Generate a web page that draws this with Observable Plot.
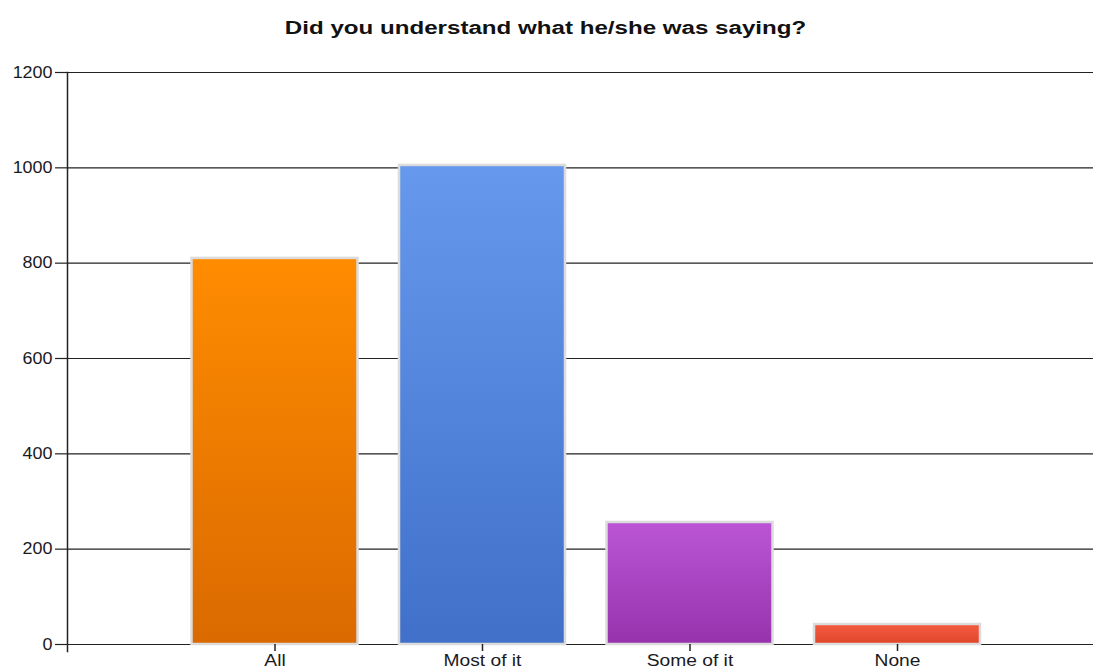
<!DOCTYPE html>
<html>
<head>
<meta charset="utf-8">
<script src="https://cdn.jsdelivr.net/npm/d3@7"></script>
<script src="https://cdn.jsdelivr.net/npm/@observablehq/plot@0.6"></script>
<style>
  html, body { margin: 0; padding: 0; background: #fff; }
  #titlewrap { height: 50px; width: 1093px; text-align: center; }
  #title { display: inline-block; line-height: 56px; font-family: "Liberation Sans", Arial, sans-serif; font-weight: bold; font-size: 18px; color: #111; transform: scaleX(1.34); transform-origin: center; margin-left: -2px; }
</style>
</head>
<body>
<div id="titlewrap"><span id="title">Did you understand what he/she was saying?</span></div>
<div id="chart"></div>
<script>
const categories = ["All", "Most of it", "Some of it", "None"];
const counts = [810, 1005, 256, 42];
const yTicks = [0, 200, 400, 600, 800, 1000, 1200];
const gradTop = ["#ff8c00", "#6699ee", "#bb55d5", "#f45c40"];
const gradBottom = ["#da6a00", "#4070c8", "#9633ac", "#e0452a"];

const data = categories.map((c, i) => ({category: c, count: counts[i]}));
const gradIds = categories.map((c, i) => `grad${i}`);

const defs = () => {
  const d = d3.create("svg:defs");
  gradIds.forEach((id, i) => {
    const g = d.append("linearGradient").attr("id", id).attr("x1", 0).attr("y1", 0).attr("x2", 0).attr("y2", 1);
    g.append("stop").attr("offset", "0%").attr("stop-color", gradTop[i]);
    g.append("stop").attr("offset", "100%").attr("stop-color", gradBottom[i]);
  });
  return d.node();
};

const chart = Plot.plot({
  width: 1093,
  height: 619,
  marginTop: 22,
  marginBottom: 25,
  marginLeft: 67,
  marginRight: 0,
  style: {fontFamily: "'Liberation Sans', Arial, sans-serif", fontSize: "16px", color: "#1a1a22", background: "#fff"},
  x: {type: "band", domain: categories, range: [170.75, 1000.75], paddingInner: 0.2, paddingOuter: 0.1, round: false, label: null},
  y: {domain: [0, 1200], label: null},
  color: {type: "ordinal", domain: categories, range: gradIds.map(id => `url(#${id})`)},
  marks: [
    defs,
    Plot.ruleY(yTicks, {stroke: "#222", strokeWidth: 1.2}),
    Plot.barY(data, {x: "category", y: "count", fill: "category", stroke: "#dcdcdc", strokeWidth: 2.5}),
    Plot.axisY({ticks: yTicks, tickFormat: "d", tickSize: 12, tickPadding: 3, stroke: "#222", strokeWidth: 1.2, fill: "#1a1a22", ariaLabel: "y-axis"}),
    Plot.axisX({tickSize: 7, tickPadding: 3, stroke: "#222", strokeWidth: 1.5, fill: "#1a1a22", ariaLabel: "x-axis"}),
    Plot.frame({anchor: "left", insetBottom: -7, stroke: "#222", strokeWidth: 1.5})
  ]
});
document.getElementById("chart").appendChild(chart);

// widen tick label glyphs to match the reference's wide rendering
const stretch = (sel, k) => {
  d3.select(chart).selectAll(sel).each(function() {
    const len = this.getComputedTextLength();
    d3.select(this).attr("textLength", len * k).attr("lengthAdjust", "spacingAndGlyphs");
  });
};
stretch('g[aria-label="y-axis tick label"] text', 1.12);
stretch('g[aria-label="x-axis tick label"] text', 1.2);
</script>
</body>
</html>
